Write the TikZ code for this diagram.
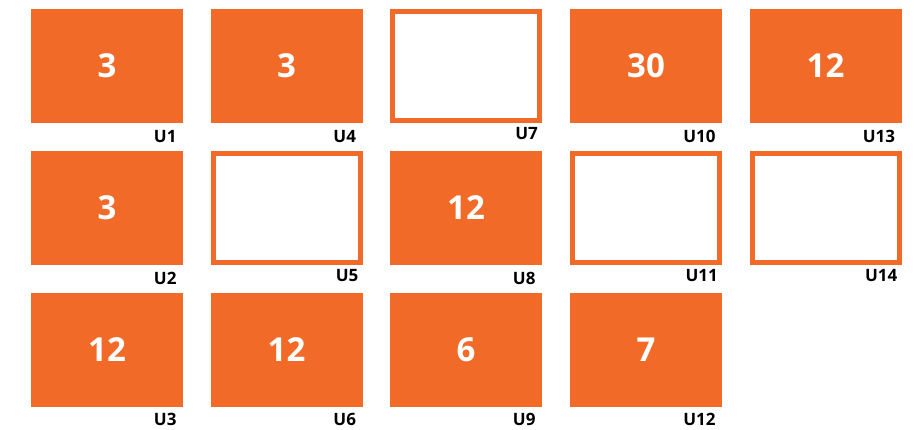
\documentclass[tikz,border=0pt]{standalone}
\usepackage{fontspec}
\setmainfont{Open Sans}
\definecolor{boxorange}{RGB}{242,106,40}
\tikzset{
  x=1pt,y=1pt,
  fullbox/.style={fill=boxorange,draw=none,minimum width=152pt,minimum height=114pt,inner sep=0pt,text=white,font=\fontsize{33}{40}\selectfont\bfseries},
  emptybox/.style={fill=white,draw=boxorange,line width=5pt,minimum width=147pt,minimum height=109pt,inner sep=0pt},
  ulabel/.style={anchor=base east,inner sep=0pt,font=\fontsize{17}{20}\selectfont\bfseries,text=black}
}
\begin{document}
\begin{tikzpicture}
\useasboundingbox (0,0) rectangle (915,429);
\node[fullbox] (b1) at (107,363) {3};
\node[fullbox] (b2) at (107,221) {3};
\node[fullbox] (b3) at (107,79.3) {12};
\node[fullbox] (b4) at (286.5,363) {3};
\node[emptybox] (b5) at (286.5,221) {};
\node[fullbox] (b6) at (286.5,79.3) {12};
\node[emptybox] (b7) at (466,363) {};
\node[fullbox] (b8) at (466,221) {12};
\node[fullbox] (b9) at (466,79.3) {6};
\node[fullbox] (b10) at (646,363) {30};
\node[emptybox] (b11) at (646,221) {};
\node[fullbox] (b12) at (646,79.3) {7};
\node[fullbox] (b13) at (825.5,363) {12};
\node[emptybox] (b14) at (825.5,221) {};
\foreach \i in {1,2,3,4,6,8,9,10,12,13}{
  \node[ulabel] (l\i) at ([shift={(-6.5,-19)}]b\i.south east) {U\i};
}
\foreach \i in {5,7,11,14}{
  \node[ulabel] (l\i) at ([shift={(-4,-16.5)}]b\i.south east) {U\i};
}
\end{tikzpicture}
\end{document}
